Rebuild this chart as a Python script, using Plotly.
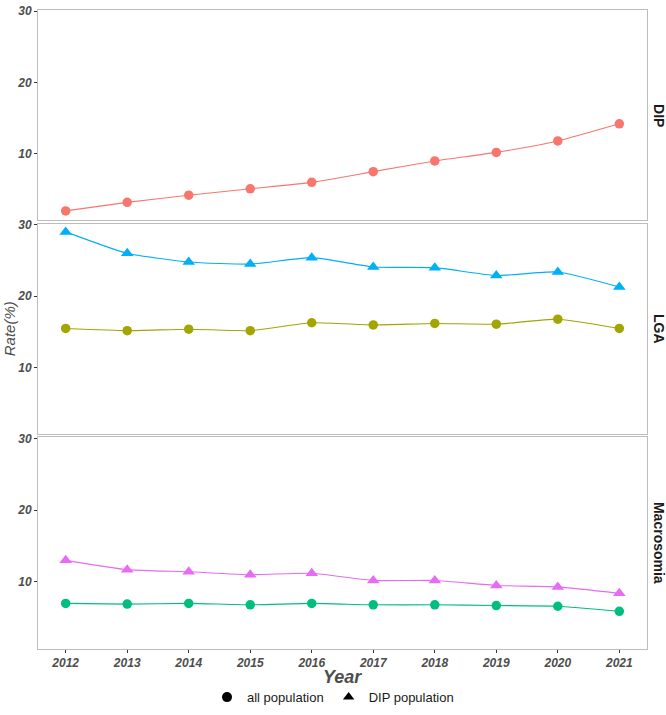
import plotly.graph_objects as go

years = [2012, 2013, 2014, 2015, 2016, 2017, 2018, 2019, 2020, 2021]
facets = ["DIP", "LGA", "Macrosomia"]

dip_all = [2.0, 3.2, 4.2, 5.1, 6.0, 7.5, 9.0, 10.2, 11.8, 14.2]
lga_all = [15.5, 15.2, 15.4, 15.2, 16.3, 16.0, 16.2, 16.1, 16.8, 15.5]
lga_dip = [29.0, 26.0, 24.8, 24.5, 25.4, 24.1, 24.0, 22.9, 23.4, 21.3]
mac_all = [7.0, 6.9, 7.0, 6.8, 7.0, 6.8, 6.8, 6.7, 6.6, 5.9]
mac_dip = [13.0, 11.7, 11.4, 11.0, 11.2, 10.2, 10.2, 9.5, 9.3, 8.4]

y_ticks = [10, 20, 30]

W, H = 666, 715
FONT = "Liberation Sans, Arial, sans-serif"

# panel pixel boxes (top, bottom)
panels = [(4, 216), (219.5, 432), (435, 648)]
x_left, x_right = 38, 647

fig = go.Figure()

series = [
    (1, dip_all, "circle", "#F8766D"),
    (2, lga_all, "circle", "#A3A500"),
    (2, lga_dip, "triangle-up", "#00B0F6"),
    (3, mac_all, "circle", "#00BF7D"),
    (3, mac_dip, "triangle-up", "#E76BF3"),
]
for idx, vals, sym, col in series:
    sfx = "" if idx == 1 else str(idx)
    fig.add_trace(go.Scatter(
        x=years, y=vals, mode="lines+markers",
        line=dict(color=col, width=1.1, shape="spline", smoothing=0.5),
        marker=dict(symbol=sym, color=col, size=9.5 if sym == "circle" else 11),
        showlegend=False, xaxis="x" + sfx, yaxis="y" + sfx,
    ))

# legend-only traces
fig.add_trace(go.Scatter(x=[None], y=[None], mode="markers", name="all population",
                         marker=dict(symbol="circle", color="black", size=10)))
fig.add_trace(go.Scatter(x=[None], y=[None], mode="markers", name="DIP population",
                         marker=dict(symbol="triangle-up", color="black", size=10)))

tickfont = dict(family=FONT, size=12, color="#4D4D4D", weight="bold", style="italic")
layout = dict(
    width=W, height=H, margin=dict(l=0, r=0, t=0, b=0),
    plot_bgcolor="white", paper_bgcolor="white",
    showlegend=True,
    legend=dict(orientation="h", x=0.5, xanchor="center", y=1 - 697 / H, yanchor="middle",
                font=dict(family=FONT, size=13, color="#1A1A1A"), itemwidth=30,
                tracegroupgap=0),
)
for i, (top, bot) in enumerate(panels, start=1):
    sfx = "" if i == 1 else str(i)
    layout["xaxis" + sfx] = dict(
        domain=[x_left / W, x_right / W], range=[2011.55, 2021.45],
        anchor="y" + sfx, showgrid=False, zeroline=False,
        showline=True, mirror=True, linecolor="#BDBDBD", linewidth=1,
        tickvals=years, ticks="outside" if i == 3 else "", ticklen=3,
        tickcolor="#333333", showticklabels=(i == 3), tickfont=tickfont,
    )
    layout["yaxis" + sfx] = dict(
        domain=[1 - bot / H, 1 - top / H], range=[0.7, 30.15],
        anchor="x" + sfx, showgrid=False, zeroline=False,
        showline=True, mirror=True, linecolor="#BDBDBD", linewidth=1,
        tickvals=y_ticks, ticks="outside", ticklen=3, tickcolor="#333333",
        tickfont=tickfont,
    )
fig.update_layout(**layout)

annotations = []
for (top, bot), name in zip(panels, facets):
    annotations.append(dict(
        text="<b>%s</b>" % name, x=659 / W, y=1 - (top + bot) / 2 / H,
        xref="paper", yref="paper", showarrow=False, textangle=90,
        font=dict(family=FONT, size=14, color="#1A1A1A"),
        xanchor="center", yanchor="middle",
    ))
annotations.append(dict(
    text="Rate(%)", x=9 / W, y=1 - 326 / H, xref="paper", yref="paper",
    showarrow=False, textangle=-90, xanchor="center", yanchor="middle",
    font=dict(family=FONT, size=15, color="#4D4D4D", style="italic"),
))
annotations.append(dict(
    text="<b>Year</b>", x=(x_left + x_right) / 2 / W, y=1 - 677 / H,
    xref="paper", yref="paper", showarrow=False, xanchor="center", yanchor="middle",
    font=dict(family=FONT, size=18, color="#4D4D4D", style="italic"),
))
fig.update_layout(annotations=annotations)

fig.write_html("out.html")
